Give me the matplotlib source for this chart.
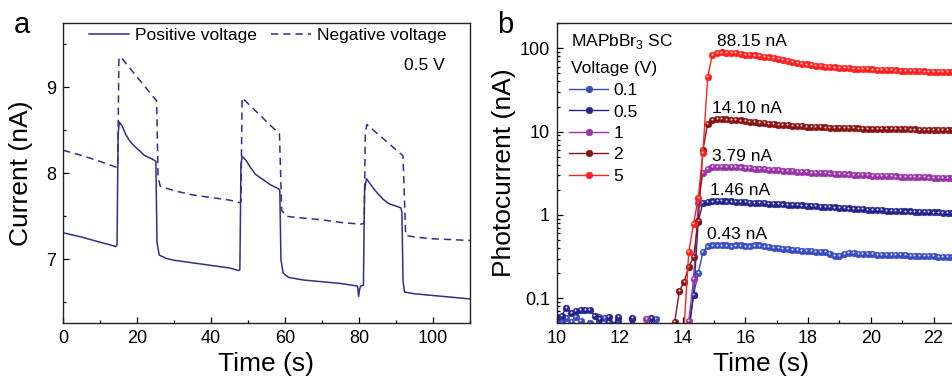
import numpy as np
import matplotlib
matplotlib.use("Agg")
import matplotlib.pyplot as plt
from matplotlib.ticker import MultipleLocator, LogLocator, NullFormatter
from matplotlib.transforms import offset_copy

plt.rcParams['font.family'] = ['Liberation Sans', 'DejaVu Sans']
plt.rcParams['mathtext.fontset'] = 'custom'
plt.rcParams['mathtext.rm'] = 'Liberation Sans'

# ---------------- Panel a data ----------------
pos_time = [0, 5, 10, 14.3, 14.6, 14.9, 15.2, 16, 17, 18, 19, 20, 21, 22, 23, 24, 24.8,
            25.1, 25.4, 26, 28, 30, 35, 40, 45, 47.5, 47.8, 48.1, 48.4, 49.5, 50.5, 52,
            54, 56, 58.3, 58.6, 58.9, 59.5, 61, 65, 70, 75, 79.6, 79.9, 80.2, 80.5, 81.2,
            81.5, 82.0, 83, 84, 85, 86.5, 88, 90, 91.3, 91.6, 91.9, 92.3, 95, 100, 105, 110]
pos_current = [7.31, 7.26, 7.20, 7.15, 7.17, 8.45, 8.60, 8.55, 8.45, 8.38, 8.33, 8.29, 8.25,
               8.21, 8.19, 8.17, 8.15, 8.14, 7.20, 7.05, 7.01, 6.99, 6.96, 6.93, 6.90, 6.87,
               6.88, 8.10, 8.20, 8.15, 8.08, 7.99, 7.93, 7.87, 7.82, 7.80, 7.00, 6.84, 6.79,
               6.76, 6.74, 6.72, 6.69, 6.57, 6.66, 6.69, 6.70, 7.80, 7.94, 7.88, 7.82, 7.77,
               7.70, 7.65, 7.62, 7.60, 7.55, 6.75, 6.62, 6.60, 6.58, 6.56, 6.54]

neg_time = [0, 5, 10, 14.5, 14.8, 15.1, 15.5, 25.0, 25.3, 25.7, 26.3, 30, 35, 40, 45,
            47.8, 48.1, 48.4, 58.2, 58.5, 59.1, 60.5, 65, 70, 75, 80.5, 81.4, 81.7, 82.1,
            91.5, 91.9, 92.6, 95, 100, 105, 110]
neg_current = [8.27, 8.21, 8.14, 8.07, 8.07, 9.32, 9.36, 8.86, 8.85, 7.95, 7.85, 7.80,
               7.75, 7.72, 7.69, 7.66, 7.67, 8.88, 8.47, 8.46, 7.57, 7.50, 7.48, 7.46, 7.43,
               7.41, 7.42, 8.45, 8.57, 8.22, 8.20, 7.28, 7.26, 7.24, 7.23, 7.22]

# ---------------- Panel b data ----------------
# sampled every 0.15 s starting at 10 s
dt_b = 0.15
t0_b = 10.0
labels_b = ['0.1', '0.5', '1', '2', '5']
colors_b = ['#3a4cc0', '#24248e', '#9a32a8', '#8a1414', '#ff2020']

i_01 = [0.055, 0.050, 0.058, 0.052, 0.060, 0.054, 0.047, 0.050, 0.045, 0.060, 0.058, 0.052,
        0.048, 0.055, 0.045, 0.040, 0.057, 0.040, 0.035, 0.040, 0.045, 0.056, 0.040, 0.035,
        0.035, 0.035, 0.035, 0.040, 0.045, 0.110, 0.200, 0.360, 0.420, 0.430,
        0.430, 0.430, 0.430, 0.420, 0.430, 0.430, 0.420, 0.420, 0.430, 0.430, 0.420, 0.410,
        0.400, 0.400, 0.390, 0.390, 0.380, 0.380, 0.370, 0.370, 0.370, 0.360, 0.360, 0.360,
        0.340, 0.320, 0.320, 0.340, 0.350, 0.350, 0.340, 0.340, 0.340, 0.340, 0.330, 0.330,
        0.330, 0.330, 0.330, 0.330, 0.330, 0.320, 0.320, 0.320, 0.320, 0.320, 0.320, 0.310,
        0.310, 0.310, 0.310, 0.310]
i_05 = [0.060, 0.062, 0.077, 0.066, 0.071, 0.073, 0.072, 0.073, 0.062, 0.057, 0.045, 0.060,
        0.048, 0.060, 0.045, 0.040, 0.058, 0.040, 0.035, 0.040, 0.058, 0.040, 0.035, 0.035,
        0.035, 0.035, 0.035, 0.035, 0.040, 0.110, 0.830, 1.400, 1.430, 1.450,
        1.46, 1.46, 1.45, 1.45, 1.44, 1.43, 1.42, 1.41, 1.40, 1.39, 1.38, 1.37, 1.36, 1.35,
        1.34, 1.33, 1.32, 1.31, 1.30, 1.29, 1.28, 1.27, 1.26, 1.25, 1.24, 1.23, 1.22, 1.21,
        1.20, 1.19, 1.18, 1.17, 1.16, 1.15, 1.15, 1.14, 1.13, 1.12, 1.12, 1.11, 1.10, 1.10,
        1.09, 1.09, 1.08, 1.08, 1.07, 1.07, 1.06, 1.06, 1.05, 1.05]
i_1 = [0.030, 0.030, 0.030, 0.030, 0.030, 0.030, 0.030, 0.030, 0.030, 0.030, 0.030, 0.030,
       0.030, 0.030, 0.030, 0.030, 0.030, 0.030, 0.030, 0.056, 0.030, 0.030, 0.030, 0.030,
       0.030, 0.030, 0.030, 0.040, 0.054, 0.170, 1.400, 3.200, 3.600, 3.750,
       3.79, 3.79, 3.78, 3.76, 3.74, 3.71, 3.67, 3.63, 3.59, 3.56, 3.53, 3.50, 3.47, 3.44,
       3.41, 3.38, 3.35, 3.32, 3.29, 3.26, 3.23, 3.21, 3.19, 3.17, 3.15, 3.13, 3.11, 3.09,
       3.07, 3.05, 3.03, 3.01, 2.99, 2.97, 2.96, 2.94, 2.93, 2.91, 2.90, 2.88, 2.87, 2.86,
       2.85, 2.84, 2.83, 2.82, 2.81, 2.80, 2.79, 2.78, 2.77, 2.76]
i_2 = [0.030, 0.030, 0.030, 0.030, 0.030, 0.030, 0.030, 0.030, 0.030, 0.030, 0.030, 0.030,
       0.030, 0.030, 0.030, 0.030, 0.030, 0.030, 0.030, 0.030, 0.030, 0.030, 0.030, 0.030,
       0.030, 0.052, 0.122, 0.158, 0.240, 0.310, 0.850, 6.000, 12.50, 13.80,
       14.10, 14.10, 14.00, 13.90, 13.80, 13.60, 13.40, 13.20, 13.00, 12.80, 12.60, 12.40,
       12.30, 12.10, 12.00, 11.90, 11.80, 11.70, 11.60, 11.50, 11.40, 11.35, 11.30, 11.25,
       11.20, 11.15, 11.10, 11.05, 11.00, 10.95, 10.90, 10.87, 10.85, 10.82, 10.80, 10.77,
       10.75, 10.72, 10.70, 10.68, 10.65, 10.62, 10.60, 10.57, 10.55, 10.52, 10.50, 10.47,
       10.45, 10.42, 10.40, 10.35]
i_5 = [0.030, 0.030, 0.030, 0.030, 0.030, 0.030, 0.030, 0.030, 0.030, 0.030, 0.030, 0.030,
       0.030, 0.030, 0.030, 0.030, 0.030, 0.030, 0.030, 0.030, 0.030, 0.030, 0.030, 0.030,
       0.030, 0.030, 0.030, 0.045, 0.360, 0.780, 1.600, 5.600, 45.00, 84.00,
       88.0, 89.0, 88.5, 88.0, 87.0, 85.5, 84.0, 83.0, 82.0, 80.5, 79.0, 77.5, 76.0, 74.0,
       72.5, 71.0, 69.0, 67.0, 65.5, 64.0, 63.0, 62.0, 61.0, 60.0, 59.5, 59.0, 58.5, 58.0,
       57.5, 57.0, 56.5, 56.2, 56.0, 55.7, 55.4, 55.1, 54.8, 54.5, 54.2, 54.0, 53.7, 53.4,
       53.1, 52.9, 52.7, 52.5, 52.3, 52.1, 51.9, 51.7, 51.5, 51.3]
series_b = [i_01, i_05, i_1, i_2, i_5]

peak_labels = ['0.43 nA', '1.46 nA', '3.79 nA', '14.10 nA', '88.15 nA']
peak_label_t = [14.78, 14.87, 14.95, 14.95, 15.1]
peak_label_y = [0.59, 1.94, 4.97, 18.7, 119]

# ---------------- Figure ----------------
fig = plt.figure(figsize=(9.53, 3.84), dpi=100)

# Panel a
axa = fig.add_axes([63/953, 61/384, 407/953, 300/384])
line_col = '#2f2f8f'
axa.plot(pos_time, pos_current, color=line_col, lw=1.1, label='Positive voltage')
axa.plot(neg_time, neg_current, color=line_col, lw=1.1, dashes=(4.8, 3.2), label='Negative voltage')
axa.set_xlim(0, 110)
axa.set_ylim(6.26, 9.75)
axa.xaxis.set_major_locator(MultipleLocator(20))
axa.xaxis.set_minor_locator(MultipleLocator(10))
axa.yaxis.set_major_locator(MultipleLocator(1))
axa.yaxis.set_minor_locator(MultipleLocator(0.5))
axa.set_xlabel('Time (s)', fontsize=19, labelpad=4)
axa.set_ylabel('Current (nA)', fontsize=19, labelpad=9)
axa.legend(loc='upper left', bbox_to_anchor=(0.063, 0.985), ncol=2, frameon=False,
           fontsize=12.5, handlelength=2.3, handletextpad=0.35, columnspacing=0.85,
           borderpad=0, borderaxespad=0)
axa.text(0.9386, 0.86, '0.5 V', transform=axa.transAxes, ha='right', va='center', fontsize=12.5)

# Panel b
axb = fig.add_axes([557/953, 61/384, 408/953, 300/384])
axb.set_yscale('log')
hl_trans = offset_copy(axb.transData, fig=fig, x=-0.4, y=0.6, units='points')
handles = []
for vals, lab, col in zip(series_b, labels_b, colors_b):
    t = t0_b + dt_b * np.arange(len(vals))
    ln, = axb.plot(t, vals, color=col, lw=1.0, marker='o', ms=4.8, mfc=col, mec=col,
                   mew=0.4, label=lab)
    axb.plot(t, vals, ls='none', marker='o', ms=1.5, mfc='white', mec='none', alpha=0.8,
             transform=hl_trans)
    handles.append(ln)
for txt, tx, ty in zip(peak_labels, peak_label_t, peak_label_y):
    axb.text(tx, ty, txt, ha='left', va='center', fontsize=12.5)
axb.set_xlim(10, 23)
axb.set_ylim(0.0505, 201)
axb.xaxis.set_major_locator(MultipleLocator(2))
axb.xaxis.set_minor_locator(MultipleLocator(1))
axb.set_yticks([0.1, 1, 10, 100], labels=['0.1', '1', '10', '100'])
axb.yaxis.set_minor_locator(LogLocator(base=10, subs=np.arange(2, 10)))
axb.yaxis.set_minor_formatter(NullFormatter())
axb.set_xlabel('Time (s)', fontsize=19, labelpad=4)
axb.set_ylabel('Photocurrent (nA)', fontsize=19, labelpad=3)
axb.text(0.0336, 0.937, 'MAPbBr$_3$ SC', transform=axb.transAxes, ha='left', va='center', fontsize=12.5)
axb.text(0.0336, 0.847, 'Voltage (V)', transform=axb.transAxes, ha='left', va='center', fontsize=12.5)
axb.legend(handles=handles, loc='upper left', bbox_to_anchor=(0.03, 0.80), frameon=False,
           fontsize=12.5, handlelength=2.25, handletextpad=0.3, labelspacing=0.36,
           borderpad=0, borderaxespad=0, numpoints=1)

for ax in (axa, axb):
    for s in ax.spines.values():
        s.set_linewidth(1.0)
        s.set_color('#222222')
    ax.tick_params(which='both', direction='in', labelsize=13, width=0.9, pad=5)
    ax.tick_params(which='major', length=4)
    ax.tick_params(which='minor', length=2.5)

fig.text(14/953, 1 - 25/384, 'a', fontsize=21, ha='left', va='center')
fig.text(497/953, 1 - 25/384, 'b', fontsize=21, ha='left', va='center')

fig.savefig('out.png', dpi=100)
